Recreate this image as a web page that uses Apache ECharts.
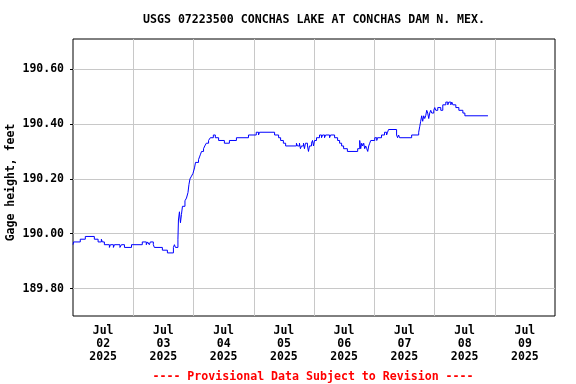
<!DOCTYPE html>
<html>
<head>
<meta charset="utf-8">
<script src="https://cdn.jsdelivr.net/npm/echarts@6/dist/echarts.min.js"></script>
<style>html,body{margin:0;padding:0;background:#fff}#c{width:576px;height:384px}</style>
</head>
<body>
<div id="c"></div>
<script>
const titleText = 'USGS 07223500 CONCHAS LAKE AT CONCHAS DAM N. MEX.';
const footerText = '---- Provisional Data Subject to Revision ----';
const yAxisTitle = 'Gage height, feet';
const dayLabels = ['Jul\n02\n2025','Jul\n03\n2025','Jul\n04\n2025','Jul\n05\n2025','Jul\n06\n2025','Jul\n07\n2025','Jul\n08\n2025','Jul\n09\n2025'];
const startUTC = Date.UTC(2025, 6, 2);
const endUTC = Date.UTC(2025, 6, 10);
const yMin = 189.70, yMax = 190.71;
// [hours since Jul 02 00:00, gage height ft]
const readings = [[0,189.96],[0.25,189.97],[2.9,189.98],[4.9,189.99],[8.5,189.98],[10,189.97],[11.3,189.98],[11.7,189.97],[12.5,189.96],[14.5,189.95],[14.9,189.96],[16.1,189.95],[16.5,189.96],[18.7,189.95],[19.3,189.96],[20.5,189.95],[23.3,189.96],[27.6,189.97],[29.2,189.96],[29.7,189.97],[30.4,189.96],[30.8,189.97],[32,189.96],[32.4,189.95],[35.6,189.94],[37.6,189.93],[40,189.95],[40.4,189.96],[40.8,189.95],[41.8,189.98],[42,190.05],[42.4,190.08],[42.8,190.04],[43.2,190.07],[43.6,190.10],[44.6,190.12],[45.2,190.13],[45.8,190.15],[46.2,190.18],[46.6,190.20],[47.2,190.21],[47.8,190.22],[48.4,190.24],[48.8,190.26],[50,190.27],[50.4,190.28],[50.8,190.29],[51.2,190.30],[52,190.31],[52.5,190.32],[53.1,190.33],[54,190.34],[54.7,190.35],[55.9,190.36],[56.7,190.35],[58,190.34],[60.3,190.33],[62.3,190.34],[65.1,190.35],[69.9,190.36],[73,190.37],[73.9,190.36],[74.3,190.37],[80.3,190.36],[81.9,190.35],[82.7,190.34],[83.8,190.33],[84.7,190.32],[89,190.33],[89.4,190.32],[90.2,190.33],[90.6,190.31],[91,190.32],[91.8,190.33],[92.2,190.31],[92.6,190.33],[93.4,190.32],[93.8,190.30],[94.2,190.32],[95,190.33],[95.4,190.34],[95.8,190.32],[96.2,190.34],[97,190.35],[98.2,190.36],[99,190.35],[99.4,190.36],[100.2,190.35],[100.6,190.36],[102.2,190.35],[102.6,190.36],[104.2,190.35],[105.4,190.34],[106.2,190.33],[107,190.32],[107.8,190.31],[109.3,190.30],[113.4,190.31],[114.2,190.34],[114.6,190.31],[115,190.33],[115.4,190.32],[115.8,190.33],[116.2,190.31],[116.6,190.32],[117,190.31],[117.4,190.30],[117.8,190.32],[118.2,190.33],[118.6,190.34],[120.2,190.35],[121,190.34],[121.3,190.35],[122.9,190.36],[124.1,190.37],[124.9,190.36],[125.3,190.37],[125.7,190.38],[128.9,190.36],[129.3,190.35],[129.7,190.36],[130.1,190.35],[134.9,190.36],[137.7,190.37],[138.1,190.39],[138.5,190.41],[138.9,190.43],[139.3,190.41],[139.7,190.43],[140.1,190.42],[140.5,190.43],[140.9,190.45],[141.3,190.44],[141.7,190.42],[142.1,190.44],[142.5,190.45],[142.9,190.44],[143.7,190.45],[144.1,190.46],[144.5,190.45],[145.3,190.46],[146.5,190.45],[147.3,190.47],[148.5,190.48],[149.3,190.47],[149.7,190.48],[150.5,190.47],[150.9,190.48],[151.3,190.47],[152.5,190.46],[153.7,190.45],[155.3,190.44],[156.1,190.43],[165.3,190.43]];

const seriesData = readings.map(r => [startUTC + r[0] * 3600000, r[1]]);
const FONT = 'DejaVu Sans Mono';
const chart = echarts.init(document.getElementById('c'), null, {renderer: 'canvas'});
chart.setOption({
  animation: false,
  backgroundColor: '#fff',
  title: [
    {text: titleText, left: 309, top: 9, textAlign: 'center',
     textStyle: {fontFamily: FONT, fontSize: 11.6, fontWeight: 'bold', color: '#000'}},
    {text: footerText, left: 308, top: 366, textAlign: 'center',
     textStyle: {fontFamily: FONT, fontSize: 11.6, fontWeight: 'bold', color: '#ff0000'}}
  ],
  grid: {left: 73, right: 21, top: 39, bottom: 68, show: true, borderColor: '#000', borderWidth: 1,
         containLabel: false, outerBoundsMode: 'none'},
  xAxis: [
    {type: 'value', min: startUTC, max: endUTC, interval: 86400000,
     axisLine: {show: false}, axisTick: {show: false}, axisLabel: {show: false},
     splitLine: {show: true, showMinLine: false, showMaxLine: false, lineStyle: {color: '#c8c8c8', width: 1}}},
    {type: 'category', data: dayLabels, position: 'bottom', boundaryGap: true,
     axisLine: {show: false}, axisTick: {show: false}, splitLine: {show: false},
     axisLabel: {fontFamily: FONT, fontSize: 11.5, fontWeight: 'bold', color: '#000', lineHeight: 13, margin: 9}}
  ],
  yAxis: {
    type: 'value', min: yMin, max: yMax, splitNumber: 5,
    name: yAxisTitle, nameLocation: 'middle', nameGap: 56, nameMoveOverlap: false,
    nameTextStyle: {fontFamily: FONT, fontSize: 11.5, fontWeight: 'bold', color: '#000', padding: [0, 10, 0, 0]},
    axisLine: {show: false},
    axisTick: {show: true, length: 3, lineStyle: {color: '#000'}},
    axisLabel: {fontFamily: FONT, fontSize: 11.5, fontWeight: 'bold', color: '#000', margin: 9,
      showMinLabel: false, showMaxLabel: false,
      formatter: v => v.toFixed(2)},
    splitLine: {show: true, showMinLine: false, showMaxLine: false, lineStyle: {color: '#c8c8c8', width: 1}}
  },
  series: [{
    type: 'line', xAxisIndex: 0, data: seriesData, step: 'end', showSymbol: false,
    lineStyle: {color: '#0000ff', width: 1}
  }]
});
</script>
</body>
</html>
